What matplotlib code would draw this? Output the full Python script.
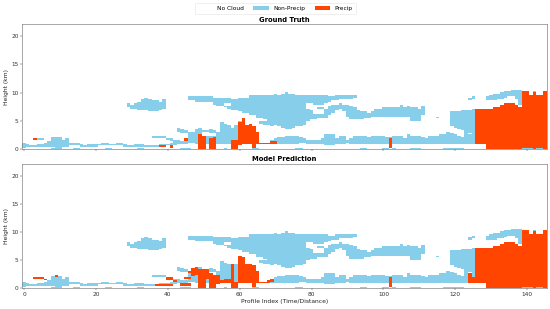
import numpy as np
import matplotlib
matplotlib.use("Agg")
import matplotlib.pyplot as plt
from matplotlib.colors import ListedColormap
from matplotlib.patches import Patch

# cloud layers: first column, then bottom / top height in km per column
low_start = 0
low_bot = [.2, .4, .4, .5, .5, .5, .5, .5, .4, .3, .3, .5, .5, .7, .7, .7, .5, .5, .5, .5,
           .6, .7, .7, .7, .7, .7, .8, .7, .6, .5, .4, .5, .5, .5, .5, .5, .5, .5, .6, .7,
           .7, .7, .7, 1.0, 1.0, 1.0]
low_top = [1.3, 1.0, .8, .8, .9, 1.0, 1.1, 1.5, 2.2, 2.2, 2.2, 1.7, 1.9, 1.2, 1.2, 1.1, .9, .8, 1.0, .9,
           .9, 1.0, 1.1, 1.1, 1.0, 1.0, 1.3, 1.1, .9, .8, .7, .9, .9, .9, .8, .7, .7, .7, .9, 1.0,
           1.0, 1.2, 1.7, 1.7, 1.4, 1.4]

thin_start = 4
thin_bot = [1.7, 1.7]
thin_top = [2.0, 2.0]

thin2_start = 36
thin2_bot = [2.0, 2.0, 2.0, 1.9, 1.6, 1.4]
thin2_top = [2.4, 2.4, 2.4, 2.3, 2.0, 1.8]

mid_start = 29
mid_bot = [7.5, 7.3, 7.2, 7.0, 6.9, 6.9, 6.8, 6.7, 6.8, 7.0, 7.1]
mid_top = [8.2, 8.0, 8.2, 8.5, 8.9, 9.0, 8.8, 8.6, 8.6, 8.5, 8.8]

strip_start = 43
strip_bot = [3.2, 3.0, 2.9]
strip_top = [3.8, 3.6, 3.4]

bulk_start = 46
bulk_bot = [1.3, 1.1, 1.0, 1.0, 1.0, 1.0, 1.0, 1.0, 1.0, 1.0, 1.0, 1.0, 1.0, 1.0, 1.0]
bulk_top = [3.0, 3.1, 3.7, 3.9, 3.3, 3.3, 3.5, 3.4, 3.2, 4.8, 4.5, 4.2, 3.9, 4.4, 5.0]

top_start = 46
top_bot = [8.6, 8.6, 8.5, 8.5, 8.4, 8.4, 8.3, 8.0, 7.8, 7.6, 7.4, 7.3, 7.0, 7.0, 6.8, 6.6,
           6.4, 6.1, 5.9, 5.6, 5.4, 5.2, 4.9, 4.6, 4.3, 4.1, 3.9, 3.7, 3.7, 3.9, 4.1, 4.2, 4.4]
top_top = [9.3, 9.4, 9.4, 9.4, 9.4, 9.3, 9.3, 9.2, 9.0, 9.0, 9.0, 9.0, 8.9, 8.9, 9.0, 9.0,
           9.1, 9.5, 9.5, 9.5, 9.6, 9.6, 9.7, 9.7, 9.8, 9.7, 9.9, 10.0, 9.8, 9.9, 9.7, 9.6, 9.6]

side_start = 66
side_bot = [4.5, 4.4, 4.3, 4.2]
side_top = [5.0, 5.0, 4.9, 4.8]

chunk_start = 79
chunk_bot = [5.0, 5.2, 5.3, 5.4, 5.5, 5.6, 6.0, 6.6, 7.0, 7.2, 6.8, 5.8, 5.3, 5.2, 5.2, 5.3, 5.5, 5.6]
chunk_top = [7.2, 7.0, 7.0, 7.4, 7.4, 7.2, 7.6, 7.8, 8.0, 8.2, 8.0, 7.8, 7.6, 7.4, 7.0, 6.8, 6.7, 6.5]

high_start = 79
high_bot = [8.1, 8.1, 8.0, 8.0, 8.0, 8.2, 8.3, 8.6, 8.7, 8.8, 8.9, 8.9, 9.0, 9.1]
high_top = [9.6, 9.6, 9.6, 9.5, 9.5, 9.5, 9.4, 9.4, 9.5, 9.5, 9.5, 9.6, 9.6, 9.6]

right_start = 97
right_bot = [5.7, 5.7, 5.8, 5.8, 5.8, 5.8, 5.8, 5.8, 5.8, 5.8, 5.8, 5.1, 5.1, 5.1, 6.0]
right_top = [6.8, 7.2, 7.3, 7.4, 7.4, 7.5, 7.5, 7.5, 7.8, 7.4, 7.6, 7.5, 7.4, 7.3, 7.6]

band_start = 69
band_bot = [.9, .9, .9, .9, .9, .9, .9, 1.0, 1.1, 1.1, 1.0, 1.0, 1.0, 1.0, 1.0, .8, .8, .8, 1.0, 1.0,
            .9, 1.2, 1.0, .9, .9, .9, .9, .9, .9, .9, .9, .9, .9, .9, .9, .9, .9, .9, .9, .9,
            .9, .9, .9, .9, .9, .9, .9, .9, .9, .9, .9, .9, .9, .9, .9, .9, .9]
band_top = [1.7, 1.9, 2.1, 2.1, 2.3, 2.3, 2.5, 2.4, 2.2, 1.9, 1.7, 1.6, 1.6, 1.6, 1.8, 2.7, 2.7, 2.7, 1.9, 2.5,
            2.5, 1.7, 1.9, 2.5, 2.5, 2.4, 2.3, 2.1, 2.4, 2.5, 2.4, 2.4, 2.2, 2.1, 2.4, 2.5, 2.4, 1.9, 2.6, 2.5,
            2.4, 2.3, 2.1, 1.8, 2.4, 2.5, 2.5, 2.6, 2.6, 3.0, 2.8, 2.7, 2.4, 2.2, 2.8, 2.6, 3.0]

tower_start = 119
tower_bot = [4.0, 3.8, 3.6, 3.3, 3.0, 2.8, 2.3]
tower_top = [6.8, 6.8, 6.8, 6.9, 6.9, 7.0, 7.1]

arc_start = 129
arc_bot = [8.7, 8.6, 8.7, 8.8, 9.0, 9.2, 9.3, 9.3, 9.0, 8.0]
arc_top = [9.4, 9.6, 9.8, 9.9, 10.0, 10.2, 10.3, 10.5, 10.5, 10.5]

speck_cols = [115, 124, 125, 142]
speck_bot = [5.4, 8.7, 8.9, 9.8]
speck_top = [5.7, 9.1, 9.4, 10.4]

hole_cols = [50, 51, 52, 53, 56, 57, 81, 82, 83]
hole_bot = [2.4, 2.4, 2.4, 2.4, 7.6, 7.6, 6.3, 6.3, 6.3]
hole_top = [3.0, 3.0, 2.9, 2.9, 8.2, 8.2, 7.2, 7.2, 7.2]

surface_cols = [8, 9, 10, 14, 15, 23, 24, 32, 33, 44, 45, 46, 56, 64, 65, 76, 77, 94, 95, 100, 101, 103,
                108, 109, 110, 117, 118, 119, 120, 121, 122, 139, 140, 141, 143, 144]

# precipitation, ground truth
truth_start = [3, 38, 41, 45, 102]
truth_width_bot = [[1.7], [.5, .5], [.3], [1.5], [.2]]
truth_width_top = [[2.0], [.8, .8], [.8], [1.8], [2.0]]

truth_main_start = 49
truth_main_bot = [0, 0, 9, 0, 0, 9, 9, 9, 9, 0, 0, .8, .9, .9, .9, 0, .9, 1.0, 1.0, 1.0, 1.0, 1.0]
truth_main_top = [2.6, 2.4, 0, 1.9, 2.2, 0, 0, 0, 0, 1.6, 1.6, 4.8, 5.4, 4.2, 4.5, 4.0, 3.2, 1.3, 1.3, 1.3, 1.4, 1.4]

# precipitation, prediction
pred_start = [3, 6, 9, 37, 40, 40, 42, 44, 45, 102]
pred_width_bot = [[1.7, 1.7, 1.7], [1.4], [2.0], [.5, .5, .5], [1.4, 1.4], [.4, .4], [1.2], [.6, .6, .6], [1.6, 1.6], [.2]]
pred_width_top = [[2.0, 2.0, 2.0], [1.7], [2.3], [.8, .8, .8], [1.8, 1.8], [.8, .8], [1.5], [1.0, 1.0, 1.0], [2.0, 2.0], [2.0]]

pred_main_start = 46
pred_main_bot = [2.6, 2.2, 2.4, 0, 0, 1.6, 0, 0, .8, .9, 1.0, 1.0, 0, 0, .9, .9, .9, .9, 0, .9, 1.0, 1.0, 1.0, 1.2]
pred_main_top = [3.2, 3.5, 3.9, 3.4, 3.4, 3.4, 2.6, 2.5, 2.4, 1.5, 1.6, 1.6, 4.3, 1.3, 5.8, 5.6, 4.2, 4.4, 4.1, 3.1, 1.3, 1.3, 1.4, 1.6]

# big block on the right, same for both panels
block_start = 126
block_bot = [1.0, 1.0, 1.0, 0, 0, 0, 0, 0, 0, 0, 0, 0, 0, 0, 0, 0, 0, 0, 0, 0]
block_top = [7.3, 7.2, 7.3, 7.3, 7.3, 7.5, 7.5, 8.0, 8.2, 8.2, 8.2, 8.0, 7.4, 10.4, 10.3, 9.7, 10.0, 9.7, 9.6, 10.3]

pred_extra_cols = [124, 125]
pred_extra_bot = [1.0, 1.0]
pred_extra_top = [2.6, 2.0]

labels = ["No Cloud", "Non-Precip", "Precip"]
colors = ["white", "skyblue", "orangered"]

n_cols = 146
dz = 0.24
z_edges = np.arange(0, 22.1 + dz, dz)
z_mid = (z_edges[:-1] + z_edges[1:]) / 2
x_edges = np.arange(n_cols + 1) - 0.5


def fill(grid, start, bot, top, value):
    for i in range(len(bot)):
        grid[(z_mid >= bot[i]) & (z_mid <= top[i]), start + i] = value


def fill_cols(grid, cols, bot, top, value):
    for c, b, t in zip(cols, bot, top):
        grid[(z_mid >= b) & (z_mid <= t), c] = value


def cloud_base():
    grid = np.zeros((len(z_mid), n_cols))
    fill(grid, low_start, low_bot, low_top, 1)
    fill(grid, thin_start, thin_bot, thin_top, 1)
    fill(grid, thin2_start, thin2_bot, thin2_top, 1)
    fill(grid, mid_start, mid_bot, mid_top, 1)
    fill(grid, strip_start, strip_bot, strip_top, 1)
    fill(grid, bulk_start, bulk_bot, bulk_top, 1)
    fill(grid, top_start, top_bot, top_top, 1)
    fill(grid, side_start, side_bot, side_top, 1)
    fill(grid, chunk_start, chunk_bot, chunk_top, 1)
    fill(grid, high_start, high_bot, high_top, 1)
    fill(grid, right_start, right_bot, right_top, 1)
    fill(grid, band_start, band_bot, band_top, 1)
    fill(grid, tower_start, tower_bot, tower_top, 1)
    fill(grid, arc_start, arc_bot, arc_top, 1)
    fill_cols(grid, speck_cols, speck_bot, speck_top, 1)
    fill_cols(grid, hole_cols, hole_bot, hole_top, 0)
    return grid


truth = cloud_base()
for s, b, t in zip(truth_start, truth_width_bot, truth_width_top):
    fill(truth, s, b, t, 2)
fill(truth, truth_main_start, truth_main_bot, truth_main_top, 2)
fill(truth, block_start, block_bot, block_top, 2)
truth[0, surface_cols] = 1

pred = cloud_base()
for s, b, t in zip(pred_start, pred_width_bot, pred_width_top):
    fill(pred, s, b, t, 2)
fill(pred, pred_main_start, pred_main_bot, pred_main_top, 2)
fill(pred, block_start, block_bot, block_top, 2)
fill_cols(pred, pred_extra_cols, pred_extra_bot, pred_extra_top, 2)
pred[0, surface_cols] = 1

cmap = ListedColormap(colors)

fig = plt.figure(figsize=(5.5, 3.09), dpi=100)
ax1 = fig.add_axes([22.3 / 550, 1 - 149.3 / 309, 524.7 / 550, 125 / 309])
ax2 = fig.add_axes([22.3 / 550, 1 - 288.3 / 309, 524.7 / 550, 124.6 / 309])

for ax, grid, title in [(ax1, truth, "Ground Truth"), (ax2, pred, "Model Prediction")]:
    ax.pcolormesh(x_edges, z_edges, grid, cmap=cmap, vmin=0, vmax=2, linewidth=0, rasterized=True)
    ax.set_xlim(-0.5, 145.5)
    ax.set_ylim(0, 22.1)
    ax.set_yticks([0, 5, 10, 15, 20])
    ax.set_xticks(np.arange(0, 141, 20))
    ax.tick_params(labelsize=4.2, length=1.4, width=0.35, pad=1.2, color="#444444", labelcolor="#333333")
    ax.set_ylabel("Height (km)", fontsize=4.3, labelpad=1.5, color="#222222")
    ax.set_title(title, fontsize=4.9, fontweight="bold", pad=2)
    for s in ax.spines.values():
        s.set_linewidth(0.45)
        s.set_color("#777777")

ax1.tick_params(labelbottom=False)
ax2.set_xlabel("Profile Index (Time/Distance)", fontsize=4.3, labelpad=1.2, color="#222222")

handles = [Patch(facecolor=c, edgecolor="none", label=l) for c, l in zip(colors, labels)]
fig.legend(handles=handles, loc="upper center", ncol=3, fontsize=4.2, bbox_to_anchor=(0.5, 1.0),
           frameon=True, framealpha=0.8, edgecolor="#dddddd", handlelength=2.6, handleheight=0.8,
           columnspacing=1.6, handletextpad=0.8, borderpad=0.5).get_frame().set_linewidth(0.4)

fig.savefig("out.png", dpi=100)
